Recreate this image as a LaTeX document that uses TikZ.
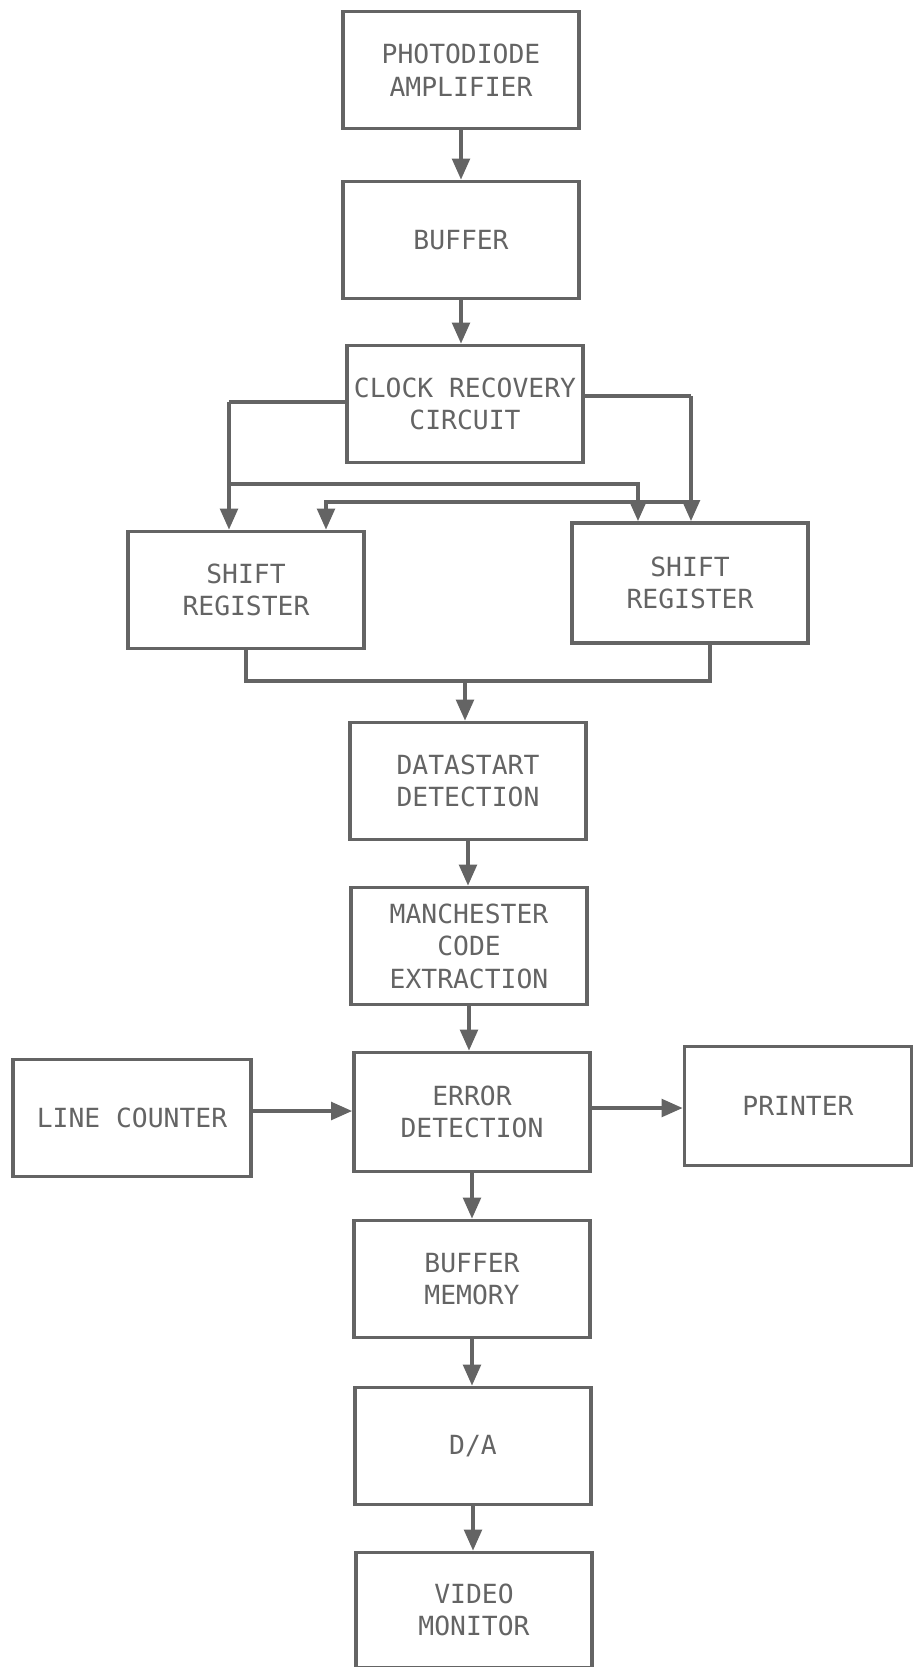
\documentclass[tikz,border=0pt]{standalone}
\usepackage{fontspec}
\setmonofont{DejaVu Sans Mono}
\usetikzlibrary{arrows.meta,positioning,calc}
\definecolor{inkgray}{RGB}{100,100,100}

\begin{document}
\begin{tikzpicture}[
    x=0.02cm, y=-0.02cm,
    block/.style={rectangle, draw=inkgray, line width=2.1pt, minimum width=4.72cm,
                  minimum height=2.34cm, align=center, text=inkgray,
                  font=\ttfamily\fontsize{15}{18.5}\selectfont, inner sep=0pt},
    wire/.style={draw=inkgray, line width=2.1pt},
    flow/.style={wire, -{Triangle[length=4.2mm, width=3.5mm]}}
]
\useasboundingbox (0,0) rectangle (914,1667);

% main chain
\node[block] (pda) at (461,70) {PHOTODIODE\\ AMPLIFIER};
\node[block] (buf) at (461,240) {BUFFER};
\node[block] (clk) at (465,404) {CLOCK RECOVERY\\CIRCUIT};
\node[block] (srl) at (246,590) {SHIFT\\REGISTER};
\node[block, minimum height=2.4cm] (srr) at (690,583) {SHIFT\\REGISTER};
\node[block] (dst) at (468,781) {DATASTART\\DETECTION};
\node[block] (man) at (469,946) {MANCHESTER\\CODE\\EXTRACTION};
\node[block, minimum height=2.38cm] (err) at (472,1112) {ERROR\\DETECTION};
\node[block] (bufm) at (472,1279) {BUFFER\\MEMORY};
\node[block] (da) at (473,1446) {D/A};
\node[block, minimum height=2.3cm] (vid) at (474,1610) {VIDEO\\MONITOR};

% side blocks
\node[block, minimum width=4.76cm] (lc) at (132,1118) {LINE COUNTER};
\node[block, minimum width=4.54cm, minimum height=2.38cm] (prn) at (798,1106) {PRINTER};

% clock distribution
\coordinate (cl) at (229,402);
\coordinate (cr) at (691,396);
\coordinate (busl) at (229,484);
\coordinate (busr) at (691,502);
\draw[wire] (clk.west |- cl) -- (cl);
\draw[flow] (cl) -- (cl |- srl.north);
\draw[flow] (busl) -| (638,0 |- srr.north);
\draw[wire] (clk.east |- cr) -- (cr);
\draw[flow] (cr) -- (cr |- srr.north);
\draw[flow] (busr) -| (326,0 |- srl.north);

% shift register outputs
\coordinate (join) at (465,681);
\draw[wire] (srl.south) |- (join) -| (710,0 |- srr.south);
\draw[flow] (join) -- (join |- dst.north);

% vertical arrows
\draw[flow] (pda.south) -- (pda.south |- buf.north);
\draw[flow] (buf.south) -- (buf.south |- clk.north);
\draw[flow] (dst.south) -- (dst.south |- man.north);
\draw[flow] (man.south) -- (man.south |- err.north);
\draw[flow] (err.south) -- (err.south |- bufm.north);
\draw[flow] (bufm.south) -- (bufm.south |- da.north);
\draw[flow] (da.south) -- (da.south |- vid.north);

% side arrows
\draw[flow] (lc.east |- 0,1111) -- (err.west |- 0,1111);
\draw[flow] (err.east |- 0,1108) -- (prn.west |- 0,1108);

\end{tikzpicture}
\end{document}
